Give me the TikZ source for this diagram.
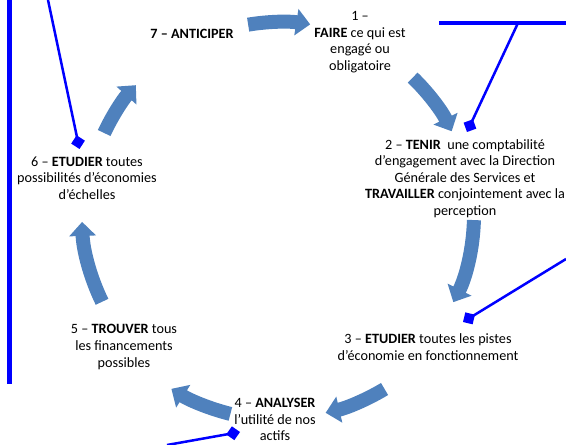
\documentclass[tikz,border=0pt]{standalone}
\usepackage{fontspec}
\setmainfont{Carlito}
\usepackage{tikz}
\usetikzlibrary{arrows.meta}
\definecolor{cycblue}{HTML}{4F81BD}
\definecolor{linkblue}{HTML}{0000FF}

\begin{document}
\begin{tikzpicture}[x=10pt, y=10pt]
\tikzset{ >=latex, inner sep=0pt, outer sep=0pt,
  lbl/.style={align=center, font=\fontsize{14.2}{16.6}\selectfont},
  cyc/.style={cycblue, line width=14pt, -{Triangle[length=14pt, width=26pt]}},
  link/.style={linkblue, line width=2.5pt, -{Diamond[length=14pt, width=14pt]}},
}
\useasboundingbox (0,0) rectangle (56.6,44.5);

%\draw [lightgray, dashed](0,0) grid (56.6,44.5);

\coordinate (C) at (28.0,23.0);

\node [lbl] (S7) at (19.2,41.1) {\textbf{7 – ANTICIPER}};
\node [lbl] (S1) at (36.0,40.3) {1 –\\\textbf{FAIRE} ce qui est\\engagé ou\\obligatoire};
\node [lbl] (S2) at (46.5,26.65) {2 – \textbf{TENIR}~ une comptabilité\\d’engagement avec la Direction\\Générale des Services et\\\textbf{TRAVAILLER} conjointement avec la\\perception};
\node [lbl] (S3) at (42.8, 9.8) {3 – \textbf{ETUDIER} toutes les pistes\\d’économie en fonctionnement};
\node [lbl] (S4) at (27.5, 2.55) {4 – \textbf{ANALYSER}\\l’utilité de nos\\actifs};
\node [lbl] (S5) at (12.4, 9.8) {5 – \textbf{TROUVER} tous\\les financements\\possibles};
\node [lbl] (S6) at ( 8.7,26.7) {6 – \textbf{ETUDIER} toutes\\possibilités d’économies\\d’échelles};

% cycle arrows
\draw [cyc] (C) ++(99.5:19.3) arc [start angle=99.5, end angle=81, radius=19.3];
\draw [cyc] (C) ++(46:19.1) arc [start angle=46, end angle=26, radius=19.1];
\draw [cyc] (C) ++(-1.5:19.4) arc [start angle=-1.5, end angle=-26.7, radius=19.4];
\draw [cyc] (C) ++(-59:20.3) arc [start angle=-59, end angle=-77, radius=20.3];
\draw [cyc] (C) ++(-104:20.5) arc [start angle=-104, end angle=-122, radius=20.5];
\draw [cyc] (C) ++(-154:19.8) arc [start angle=-154, end angle=-178, radius=19.8];
\draw [cyc] (C) ++(155:19.4) arc [start angle=155, end angle=138, radius=19.4];

% blue links
\coordinate (B0) at ( 0.95,44.5);
\coordinate (B1) at ( 0.95, 6.1);
\coordinate (H0) at (43.9,42.2);
\coordinate (H1) at (56.6,42.2);
\coordinate (H2) at (51.8,42.2);
\coordinate (E6) at ( 4.8,44.5);
\coordinate (D6) at ( 7.95,29.6);
\coordinate (D2) at (46.7,31.3);
\coordinate (E3) at (56.6,18.6);
\coordinate (D3) at (46.3,12.3);
\coordinate (E4) at (16.7, 0.0);
\coordinate (D4) at (24.0, 1.3);

\draw [linkblue, line width=4.3pt] (B0)--(B1);
\draw [linkblue, line width=3.5pt] (H0)--(H1);
\draw [link] (E6)--(D6);
\draw [link] (H2)--(D2);
\draw [link] (E3)--(D3);
\draw [link] (E4)--(D4);

\end{tikzpicture}
\end{document}
